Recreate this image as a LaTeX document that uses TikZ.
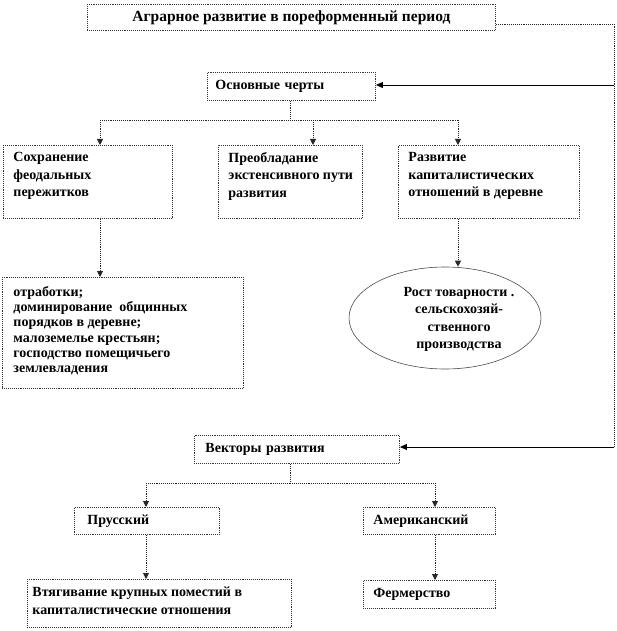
\documentclass[tikz,border=0pt]{standalone}
\usepackage{fontspec}
\setmainfont{Liberation Serif}
\usetikzlibrary{arrows.meta,shapes.geometric}
\newcommand\mltext[6]{\parbox[c][#2][t]{#1}{\raggedright\leftskip=#3\relax\fontsize{14}{#5}\selectfont\vspace*{#4}#6}}
\begin{document}
\begin{tikzpicture}[x=1pt,y=-1pt,
  every node/.style={font=\bfseries\fontsize{14}{17.5}\selectfont},
  bx/.style={draw=black!80, densely dotted, line width=0.9pt, fill=white, inner sep=0pt, anchor=north west},
  sb/.style={bx, align=left},
  dl/.style={draw=black!85, densely dotted, line width=0.9pt},
  da/.style={dl, -{Triangle[width=6pt,length=6pt]}},
  sa/.style={draw=black, line width=0.9pt, -{Triangle[width=6pt,length=7pt]}}]
\useasboundingbox (0,0) rectangle (616,631);
% boxes
\node[bx, minimum width=408pt, minimum height=26pt, align=center, font=\bfseries\fontsize{15.5}{17.5}\selectfont] (top) at (87,4) {Аграрное развитие в пореформенный период};
\node[sb, minimum height=28pt, text width=152pt, inner xsep=8pt] (osn) at (207,72) {Основные черты};
\node[bx] (s1) at (3,145) {\mltext{169pt}{73pt}{10pt}{7pt}{17.5}{Сохранение\\феодальных\\пережитков}};
\node[bx] (s2) at (218,145) {\mltext{144pt}{73pt}{10pt}{7pt}{17.5}{Преобладание\\\mbox{экстенсивного пути}\\развития}};
\node[bx] (s3) at (398,145) {\mltext{181pt}{73pt}{10pt}{7pt}{17.5}{Развитие\\капиталистических\\отношений  в деревне}};
\node[bx] (ll) at (2,277) {\mltext{241pt}{111pt}{11pt}{9pt}{15.2}{отработки;\\доминирование~~общинных\\порядков в деревне;\\малоземелье крестьян;\\господство помещичьего\\землевладения}};
\node[ellipse, draw=black!70, line width=0.6pt, fill=white, minimum width=192pt, minimum height=102pt, inner sep=0pt] (el) at (445,318) {\smash{\makebox[0pt]{\hspace*{28pt}\raisebox{-5pt}{\parbox{140pt}{\centering\fontsize{14}{17.5}\selectfont Рост товарности .\\сельскохозяй-\\ственного\\производства}}}}};
\node[sb, minimum height=28pt, text width=183pt, inner xsep=11pt] (vec) at (194,435) {Векторы развития};
\node[sb, minimum height=27pt, text width=119pt, inner xsep=13pt] (prus) at (74,507) {Прусский};
\node[sb, minimum height=27pt, text width=112pt, inner xsep=10pt] (amer) at (363,507) {Американский};
\node[bx] (vt) at (27,579) {\mltext{264pt}{48pt}{5pt}{7pt}{18}{Втягивание крупных поместий в\\капиталистические отношения}};
\node[sb, minimum height=28pt, text width=112pt, inner xsep=10pt] (ferm) at (363,580) {Фермерство};
% right connector
\coordinate (r1) at (614,24);
\coordinate (r2) at (614,85);
\coordinate (r3) at (614,447);
\draw[dl] (top.east |- r1) -- (r1) -- (r3);
\draw[sa] (r2) -- (osn.east |- r2);
\draw[sa] (r3) -- (vec.east |- r3);
% first branch
\coordinate (j1) at (290,120);
\coordinate (aL) at (100,120);
\coordinate (aM) at (313,120);
\coordinate (aR) at (458,120);
\draw[dl] (j1 |- osn.south) -- (j1);
\draw[dl] (aL) -- (aR);
\draw[da] (aL) -- (aL |- s1.north);
\draw[da] (aM) -- (aM |- s2.north);
\draw[da] (aR) -- (aR |- s3.north);
\draw[da] (aL |- s1.south) -- (aL |- ll.north);
\draw[da] (aR |- s3.south) -- (aR |- el.north);
% second branch
\coordinate (j2) at (290,483);
\coordinate (bL) at (146,483);
\coordinate (bR) at (435,483);
\draw[dl] (j2 |- vec.south) -- (j2);
\draw[dl] (bL) -- (bR);
\draw[da] (bL) -- (bL |- prus.north);
\draw[da] (bR) -- (bR |- amer.north);
\draw[da] (bL |- prus.south) -- (bL |- vt.north);
\draw[da] (bR |- amer.south) -- (bR |- ferm.north);
\end{tikzpicture}
\end{document}
